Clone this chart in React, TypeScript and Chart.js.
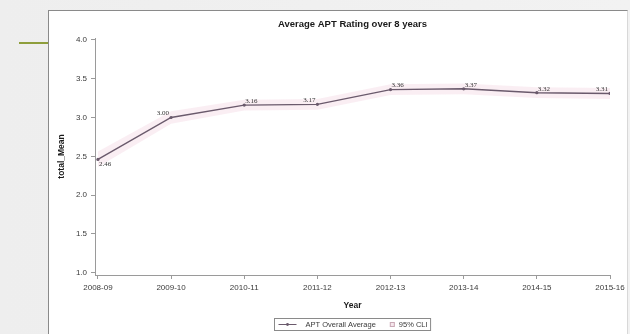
import React, { useEffect, useRef } from "react";
import { Chart, registerables } from "chart.js";

Chart.register(...registerables);

const years = ["2008-09", "2009-10", "2010-11", "2011-12", "2012-13", "2013-14", "2014-15", "2015-16"];
const means = [2.46, 3.0, 3.16, 3.17, 3.36, 3.37, 3.32, 3.31];
const upperCL = [2.56, 3.08, 3.23, 3.24, 3.43, 3.44, 3.39, 3.38];
const lowerCL = [2.36, 2.92, 3.09, 3.1, 3.29, 3.3, 3.25, 3.24];
const yTicks = [1.0, 1.5, 2.0, 2.5, 3.0, 3.5, 4.0];
const meanLabels = ["2.46", "3.00", "3.16", "3.17", "3.36", "3.37", "3.32", "3.31"];

const chartTitle = "Average APT Rating over 8 years";
const seriesName = "APT Overall Average";
const bandName = "95% CLI";
const xTitle = "Year";
const yTitle = "total_Mean";

// label placement per point: [horizontal side, vertical side]
const labelSide: Array<[string, string]> = [
  ["right", "below"],
  ["left", "above"],
  ["right", "above"],
  ["left", "above"],
  ["right", "above"],
  ["right", "above"],
  ["right", "above"],
  ["left", "above"],
];

const SANS = "'Liberation Sans', Arial, sans-serif";
const SERIF = "'Liberation Serif', 'Times New Roman', serif";
const LINE = "#6a5a6c";
const BAND = "rgba(225,150,180,0.16)";
const AXIS = "#9a9a9a";
const TEXT = "#3a3a3a";

const extrasPlugin = {
  id: "extras",
  afterDatasetsDraw(chart: any) {
    const ctx = chart.ctx;
    const area = chart.chartArea;
    const meta = chart.getDatasetMeta(0);
    ctx.save();
    // point value labels
    ctx.font = `7px ${SERIF}`;
    ctx.fillStyle = "#333";
    meta.data.forEach((pt: any, i: number) => {
      const [h, v] = labelSide[i];
      ctx.textAlign = h === "right" ? "left" : "right";
      ctx.textBaseline = "middle";
      const dx = h === "right" ? 1 : -2;
      const dy = v === "below" ? 5 : -4;
      ctx.fillText(meanLabels[i], pt.x + dx, pt.y + dy);
    });

    // title
    const cx = (area.left + area.right) / 2;
    ctx.font = `bold 9.5px ${SANS}`;
    ctx.fillStyle = "#1a1a1a";
    ctx.textAlign = "center";
    ctx.textBaseline = "middle";
    ctx.fillText(chartTitle, cx, 24.5);

    // legend
    ctx.font = `7.5px ${SANS}`;
    const w1 = ctx.measureText(seriesName).width;
    const w2 = ctx.measureText(bandName).width;
    const boxW = 4 + 18 + 9 + w1 + 14 + 5 + 4 + w2 + 3;
    const boxX = Math.round(cx - boxW / 2) + 0.5;
    const boxY = 318.5;
    const boxH = 12;
    const my = boxY + boxH / 2;
    ctx.strokeStyle = "#8a8a8a";
    ctx.lineWidth = 1;
    ctx.strokeRect(boxX, boxY, boxW, boxH);
    let x = boxX + 4;
    ctx.strokeStyle = LINE;
    ctx.lineWidth = 1;
    ctx.beginPath();
    ctx.moveTo(x, my);
    ctx.lineTo(x + 18, my);
    ctx.stroke();
    ctx.fillStyle = LINE;
    ctx.beginPath();
    ctx.arc(x + 9, my, 1.4, 0, Math.PI * 2);
    ctx.fill();
    x += 18 + 9;
    ctx.fillStyle = TEXT;
    ctx.textAlign = "left";
    ctx.fillText(seriesName, x, my + 0.5);
    x += w1 + 14;
    ctx.strokeStyle = "#c9a9b6";
    ctx.fillStyle = "rgba(240,215,225,0.6)";
    ctx.fillRect(x, my - 2.5, 5, 5);
    ctx.strokeRect(x + 0.5, my - 2, 4, 4);
    x += 5 + 4;
    ctx.fillStyle = TEXT;
    ctx.fillText(bandName, x, my + 0.5);
    ctx.restore();
  },
};

export default function App() {
  const ref = useRef<HTMLCanvasElement | null>(null);

  useEffect(() => {
    if (!ref.current) return;
    const chart = new Chart(ref.current, {
      type: "line",
      data: {
        datasets: [
          {
            label: seriesName,
            data: means.map((v, i) => ({ x: i, y: v })),
            borderColor: LINE,
            borderWidth: 1.4,
            pointRadius: 1.6,
            pointBackgroundColor: LINE,
            pointBorderWidth: 0,
            fill: false,
            order: 0,
          },
          {
            label: "upper",
            data: upperCL.map((v, i) => ({ x: i, y: v })),
            borderColor: "transparent",
            borderWidth: 0,
            pointRadius: 0,
            backgroundColor: BAND,
            fill: "+1",
            order: 1,
          },
          {
            label: "lower",
            data: lowerCL.map((v, i) => ({ x: i, y: v })),
            borderColor: "transparent",
            borderWidth: 0,
            pointRadius: 0,
            fill: false,
            order: 2,
          },
        ],
      },
      options: {
        animation: false,
        responsive: false,
        layout: { padding: { left: 48, top: 38, right: 20, bottom: 20 } },
        plugins: {
          legend: { display: false },
          title: { display: false },
          tooltip: { enabled: false },
        },
        scales: {
          x: {
            type: "linear",
            min: -0.04,
            max: 7,
            afterBuildTicks: (s: any) => {
              s.ticks = years.map((_, i) => ({ value: i }));
            },
            afterFit: (s: any) => {
              s.height = 39;
            },
            ticks: {
              callback: (v: any) => years[Math.round(Number(v))],
              font: { family: SANS, size: 8 },
              color: TEXT,
              padding: 4,
              maxRotation: 0,
              autoSkip: false,
            },
            grid: { drawOnChartArea: false, tickLength: 4, color: AXIS },
            border: { color: AXIS, width: 1 },
            title: {
              display: true,
              text: xTitle,
              font: { family: SANS, size: 8.5, weight: "bold" },
              color: "#1a1a1a",
              padding: { top: 0, bottom: 3 },
            },
          },
          y: {
            type: "linear",
            min: 0.97,
            max: 4.025,
            afterBuildTicks: (s: any) => {
              s.ticks = yTicks.map((v) => ({ value: v }));
            },
            afterFit: (s: any) => {
              s.width = 47;
            },
            ticks: {
              callback: (v: any) => Number(v).toFixed(1),
              font: { family: SANS, size: 8 },
              color: TEXT,
              padding: 4,
            },
            grid: { drawOnChartArea: false, tickLength: 4, color: AXIS },
            border: { color: AXIS, width: 1 },
            title: {
              display: true,
              text: yTitle,
              font: { family: SANS, size: 8.5, weight: "bold" },
              color: "#1a1a1a",
              padding: { top: 9, bottom: 0 },
            },
          },
        },
      },
      plugins: [extrasPlugin],
    } as any);
    return () => chart.destroy();
  }, []);

  return (
    <div
      style={{
        position: "fixed",
        left: 0,
        top: 0,
        width: 630,
        height: 334,
        overflow: "hidden",
        background: "linear-gradient(90deg, #eeeeee, #f2f2f2)",
      }}
    >
      <div
        style={{
          position: "absolute",
          left: 19,
          top: 42,
          width: 29,
          height: 2,
          background: "#8e9e3c",
        }}
      />
      <div
        style={{
          position: "absolute",
          left: 48,
          top: 10,
          width: 578,
          height: 340,
          background: "#ffffff",
          borderTop: "1px solid #8a8a8a",
          borderLeft: "1px solid #8a8a8a",
          borderRight: "1px solid #d8d8d8",
        }}
      />
      <canvas
        ref={ref}
        width={630}
        height={334}
        style={{ position: "absolute", left: 0, top: 0, width: 630, height: 334 }}
      />
    </div>
  );
}
